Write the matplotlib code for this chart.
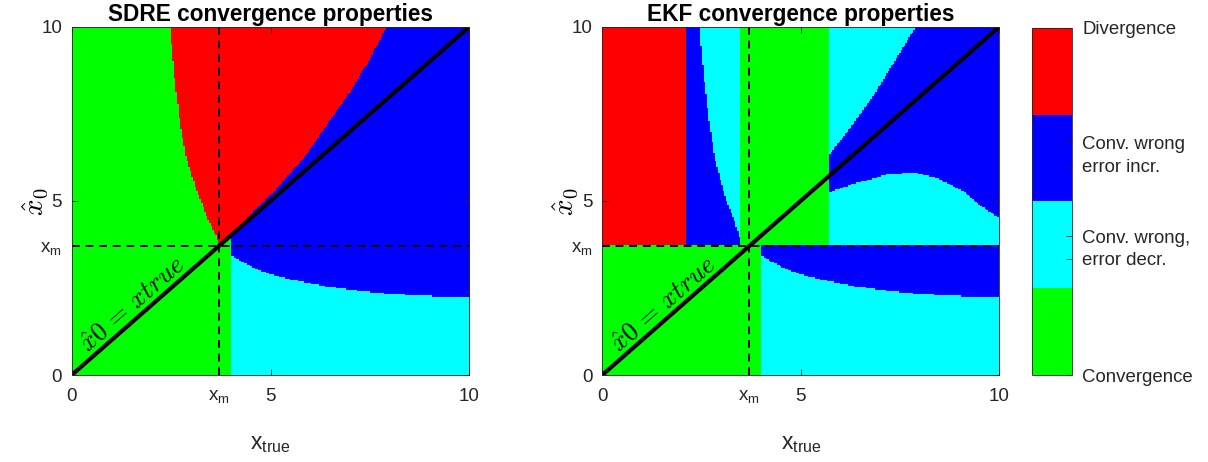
import numpy as np
import matplotlib
matplotlib.use("Agg")
import matplotlib.pyplot as plt
from matplotlib.colors import ListedColormap, BoundaryNorm
from matplotlib.cm import ScalarMappable

plt.rcParams["font.family"] = ["Liberation Sans", "DejaVu Sans"]

# ---- region data -------------------------------------------------------
x_m = 3.7                      # switching point
x_split = 4.0                  # start of the wrong-convergence zone (below x_m)

# classes: 0 convergence, 1 conv. wrong err decr, 2 conv. wrong err incr, 3 divergence
class_colors = ["#00ff00", "#00ffff", "#0000ff", "#ff0000"]
class_labels = ["Convergence", "error decr.", "Conv. wrong,",
                "error incr.", "Conv. wrong", "Divergence"]
class_ticks = [0.0, 1.34, 1.60, 2.41, 2.68, 4.0]

# lower wrong-convergence boundary (shared by both filters): y as a function of x
lower_x = [4.0, 4.27, 4.69, 5.11, 5.53, 6.37, 7.21, 8.04, 9.22, 10.0]
lower_y = [3.43, 3.25, 3.01, 2.85, 2.73, 2.54, 2.41, 2.32, 2.25, 2.24]

# SDRE divergence zone: left and right edges, x as a function of y
sdre_left_y = [3.7, 3.92, 4.50, 5.26, 6.22, 7.18, 8.61, 10.0]
sdre_left_x = [3.7, 3.65, 3.40, 3.14, 2.87, 2.72, 2.57, 2.46]
sdre_right_y = [3.7, 4.10, 4.69, 5.26, 6.22, 7.18, 8.13, 9.09, 10.0]
sdre_right_x = [3.7, 4.10, 4.57, 5.07, 5.83, 6.41, 7.00, 7.50, 7.92]

# EKF zones
ekf_div_xmax = 2.1
ekf_green_lo, ekf_green_hi = 3.49, 5.70
ekf_left_y = [3.7, 3.92, 4.50, 5.26, 6.22, 7.18, 8.61, 10.0]
ekf_left_x = [3.52, 3.47, 3.31, 3.06, 2.84, 2.71, 2.56, 2.46]
ekf_upper_x = [5.70, 6.32, 6.91, 7.42, 7.92, 10.0]
ekf_upper_y = [6.27, 7.18, 8.13, 9.09, 10.0, 14.0]
ekf_bump_x = [5.70, 6.32, 7.16, 7.83, 8.42, 9.10, 9.61, 10.0]
ekf_bump_y = [5.22, 5.47, 5.74, 5.81, 5.65, 5.26, 4.79, 4.50]

# ---- classification grid ---------------------------------------------------
step = 0.04
centers = np.arange(step / 2, 10, step)
X, Y = np.meshgrid(centers, centers)


def lower_part(X, Y):
    c = np.zeros_like(X, dtype=int)
    yl = np.interp(X, lower_x, lower_y)
    right = X >= x_split
    c[right & (Y < yl)] = 1
    c[right & (Y >= yl)] = 2
    return c


def sdre_map():
    c = lower_part(X, Y)
    up = Y >= x_m
    xl = np.interp(Y, sdre_left_y, sdre_left_x)
    xr = np.minimum(np.interp(Y, sdre_right_y, sdre_right_x), Y)
    c[up & (X < xl)] = 0
    c[up & (X >= xl) & (X < xr)] = 3
    c[up & (X >= xr) & (X >= x_split)] = 2
    return c


def ekf_map():
    c = lower_part(X, Y)
    up = Y >= x_m
    xl = np.interp(Y, ekf_left_y, ekf_left_x)
    c[up & (X < ekf_div_xmax)] = 3
    c[up & (X >= ekf_div_xmax) & (X < xl)] = 2
    c[up & (X >= xl) & (X < ekf_green_lo)] = 1
    c[up & (X >= ekf_green_lo) & (X < ekf_green_hi)] = 0
    far = up & (X >= ekf_green_hi)
    yb = np.interp(X, ekf_bump_x, ekf_bump_y)
    yu = np.interp(X, ekf_upper_x, ekf_upper_y)
    c[far & (Y < yb)] = 1
    c[far & (Y >= yb) & (Y < yu)] = 2
    c[far & (Y >= yu)] = 1
    return c


cmap = ListedColormap(class_colors)
norm = BoundaryNorm([0, 1, 2, 3, 4], cmap.N)
tick_color = "#262626"

fig = plt.figure(figsize=(12.08, 4.62), dpi=100)
ax1 = fig.add_axes([0.0594, 0.1883, 0.3291, 0.7539])
ax2 = fig.add_axes([0.4986, 0.1883, 0.3286, 0.7539])
cax = fig.add_axes([0.8546, 0.1883, 0.0331, 0.7517])

for ax, data, title in [(ax1, sdre_map(), "SDRE convergence properties"),
                        (ax2, ekf_map(), "EKF convergence properties")]:
    ax.imshow(data + 0.5, cmap=cmap, norm=norm, origin="lower",
              extent=[0, 10, 0, 10], aspect="auto", interpolation="nearest")
    ax.plot([0, 10], [0, 10], color="black", lw=3, solid_capstyle="round")
    ax.axvline(x_m, color="black", ls=(0, (4, 3)), lw=1.4)
    ax.axhline(x_m, color="black", ls=(0, (4, 3)), lw=1.4)
    ax.text(0.42, 0.64, r"$\hat{x}0\,=\,xtrue$", math_fontfamily="cm",
            fontsize=19, rotation=41.2, rotation_mode="anchor",
            ha="left", va="baseline")
    ax.set_xlim(0, 10)
    ax.set_ylim(0, 10)
    ticks = [0, x_m, 5, 10]
    labels = ["0", r"$\mathregular{x_m}$", "5", "10"]
    ax.set_xticks(ticks, labels)
    ax.set_yticks(ticks, labels)
    ax.tick_params(direction="in", length=4, width=0.6, top=True, right=True,
                   labelsize=13.5, colors=tick_color)
    ax.tick_params(axis="x", pad=9)
    ax.tick_params(axis="y", pad=7)
    for s in ax.spines.values():
        s.set_color("#262626")
        s.set_linewidth(0.6)
    ax.set_title(title, fontsize=16.3, fontweight="bold", pad=4)
    ax.set_xlabel(r"$\mathregular{x_{true}}$", fontsize=16.5, color=tick_color,
                  labelpad=20)
    ax.set_ylabel(r"$\hat{x}_0$", fontsize=21, math_fontfamily="cm")
    ax.yaxis.set_label_coords(-0.055, 0.5)

sm = ScalarMappable(norm=plt.Normalize(0, 4), cmap=cmap)
cb = fig.colorbar(sm, cax=cax, ticks=class_ticks)
cb.ax.set_yticklabels(class_labels)
cb.ax.tick_params(direction="in", length=4, width=0.6, labelsize=13.4,
                  colors=tick_color, pad=7)
cb.outline.set_edgecolor("#262626")
cb.outline.set_linewidth(0.6)

fig.savefig("out.png", dpi=100)
